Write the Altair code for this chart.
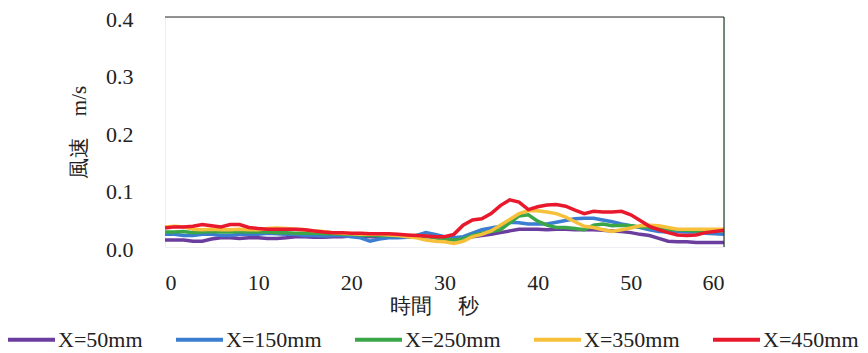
import altair as alt
import pandas as pd

time_s = list(range(61))
series_names = ["X=50mm", "X=150mm", "X=250mm", "X=350mm", "X=450mm"]

x50 = [0.012, 0.012, 0.012, 0.010, 0.010, 0.014, 0.016, 0.016, 0.015, 0.016,
       0.016, 0.015, 0.015, 0.016, 0.018, 0.018, 0.017, 0.017, 0.018, 0.018,
       0.019, 0.019, 0.018, 0.018, 0.018, 0.017, 0.017, 0.018, 0.018, 0.018,
       0.017, 0.016, 0.016, 0.018, 0.020, 0.022, 0.025, 0.028, 0.031, 0.031,
       0.031, 0.030, 0.031, 0.031, 0.030, 0.030, 0.030, 0.029, 0.028, 0.027,
       0.025, 0.022, 0.020, 0.015, 0.010, 0.009, 0.009, 0.008, 0.008, 0.008,
       0.008]
x150 = [0.022, 0.022, 0.020, 0.020, 0.022, 0.022, 0.020, 0.020, 0.022, 0.022,
        0.022, 0.024, 0.023, 0.022, 0.022, 0.020, 0.020, 0.019, 0.020, 0.020,
        0.018, 0.016, 0.010, 0.014, 0.016, 0.016, 0.017, 0.020, 0.025, 0.022,
        0.018, 0.016, 0.018, 0.024, 0.030, 0.033, 0.036, 0.043, 0.042, 0.040,
        0.040, 0.040, 0.043, 0.046, 0.049, 0.050, 0.050, 0.047, 0.044, 0.040,
        0.037, 0.034, 0.030, 0.027, 0.026, 0.027, 0.026, 0.026, 0.024, 0.023,
        0.022]
x250 = [0.026, 0.026, 0.027, 0.025, 0.026, 0.027, 0.026, 0.026, 0.027, 0.026,
        0.026, 0.026, 0.025, 0.025, 0.024, 0.024, 0.024, 0.023, 0.023, 0.022,
        0.022, 0.021, 0.020, 0.020, 0.020, 0.020, 0.019, 0.020, 0.019, 0.016,
        0.014, 0.012, 0.014, 0.020, 0.024, 0.027, 0.030, 0.042, 0.054, 0.056,
        0.045, 0.038, 0.034, 0.034, 0.032, 0.030, 0.038, 0.040, 0.037, 0.038,
        0.037, 0.035, 0.034, 0.032, 0.031, 0.030, 0.029, 0.028, 0.028, 0.029,
        0.028]
x350 = [0.035, 0.036, 0.035, 0.031, 0.030, 0.031, 0.030, 0.030, 0.031, 0.030,
        0.030, 0.032, 0.033, 0.032, 0.031, 0.030, 0.028, 0.027, 0.025, 0.024,
        0.023, 0.022, 0.022, 0.022, 0.021, 0.020, 0.018, 0.016, 0.012, 0.010,
        0.009, 0.006, 0.010, 0.018, 0.022, 0.028, 0.038, 0.048, 0.058, 0.063,
        0.063, 0.061, 0.058, 0.052, 0.044, 0.036, 0.034, 0.030, 0.027, 0.030,
        0.033, 0.037, 0.038, 0.037, 0.034, 0.031, 0.031, 0.031, 0.031, 0.031,
        0.031]
x450 = [0.033, 0.035, 0.035, 0.036, 0.039, 0.037, 0.035, 0.039, 0.039, 0.034,
        0.032, 0.031, 0.031, 0.031, 0.031, 0.030, 0.028, 0.026, 0.025, 0.025,
        0.024, 0.024, 0.023, 0.023, 0.023, 0.022, 0.021, 0.020, 0.019, 0.018,
        0.018, 0.022, 0.038, 0.047, 0.049, 0.058, 0.072, 0.082, 0.078, 0.065,
        0.070, 0.073, 0.074, 0.071, 0.064, 0.058, 0.062, 0.061, 0.061, 0.062,
        0.056, 0.046, 0.036, 0.030, 0.025, 0.021, 0.020, 0.021, 0.025, 0.027,
        0.029]

y_ticks = [0.0, 0.1, 0.2, 0.3, 0.4]
x_ticks = [0, 10, 20, 30, 40, 50, 60]
colors = ["#6a3d9e", "#3b7dd0", "#3aa648", "#f7c03a", "#e8192c"]

wide = pd.DataFrame({"t": time_s, series_names[0]: x50, series_names[1]: x150,
                     series_names[2]: x250, series_names[3]: x350, series_names[4]: x450})
df = wide.melt(id_vars="t", var_name="series", value_name="v")
df["order"] = df["series"].map({n: i for i, n in enumerate(series_names)})

W, H = 559, 230
serif = "Liberation Serif"

lines = alt.Chart(df).mark_line(strokeWidth=3.5).encode(
    x=alt.X("t:Q", scale=alt.Scale(domain=[0, 60], nice=False),
            axis=alt.Axis(values=x_ticks, title="時間　 秒", grid=False, domain=False,
                          ticks=False, labelPadding=25, titlePadding=2,
                          labelFont=serif, labelFontSize=22, labelColor="#222",
                          titleFont=serif, titleFontSize=21, titleFontWeight="normal",
                          titleColor="#222", titleX=269)),
    y=alt.Y("v:Q", scale=alt.Scale(domain=[0, 0.4], nice=False),
            axis=alt.Axis(values=y_ticks, format=".1f", title="風速　m/s", grid=False,
                          domain=False, ticks=False, labelPadding=32, titlePadding=16,
                          labelOffset=2,
                          labelFont=serif, labelFontSize=22, labelColor="#222",
                          titleFont=serif, titleFontSize=21, titleFontWeight="normal",
                          titleColor="#222")),
    color=alt.Color("series:N", scale=alt.Scale(domain=series_names, range=colors),
                    legend=alt.Legend(title=None, orient="none", direction="horizontal",
                                      columns=5, legendX=-159, legendY=297,
                                      symbolType="stroke", symbolSize=2209,
                                      symbolStrokeWidth=4, labelFont=serif,
                                      labelFontSize=22, labelColor="#222",
                                      columnPadding=25, labelOffset=1, padding=0)),
    order="order:Q",
)

frame_df = pd.DataFrame({"k": [0]})
top_rule = alt.Chart(frame_df).mark_rule(color="#2a2a2a", strokeWidth=1.2).encode(
    x=alt.value(0), x2=alt.value(W), y=alt.value(0))
right_rule = alt.Chart(frame_df).mark_rule(color="#1e3d20", strokeWidth=1.2).encode(
    x=alt.value(W), y=alt.value(0), y2=alt.value(H))

chart = alt.layer(lines, top_rule, right_rule).properties(
    width=W, height=H, autosize="none",
    padding={"left": 157, "top": 9, "right": 136, "bottom": 106},
).configure_view(stroke="#eceef3")

chart.save("out.html", embed_options={"renderer": "svg", "actions": False})
